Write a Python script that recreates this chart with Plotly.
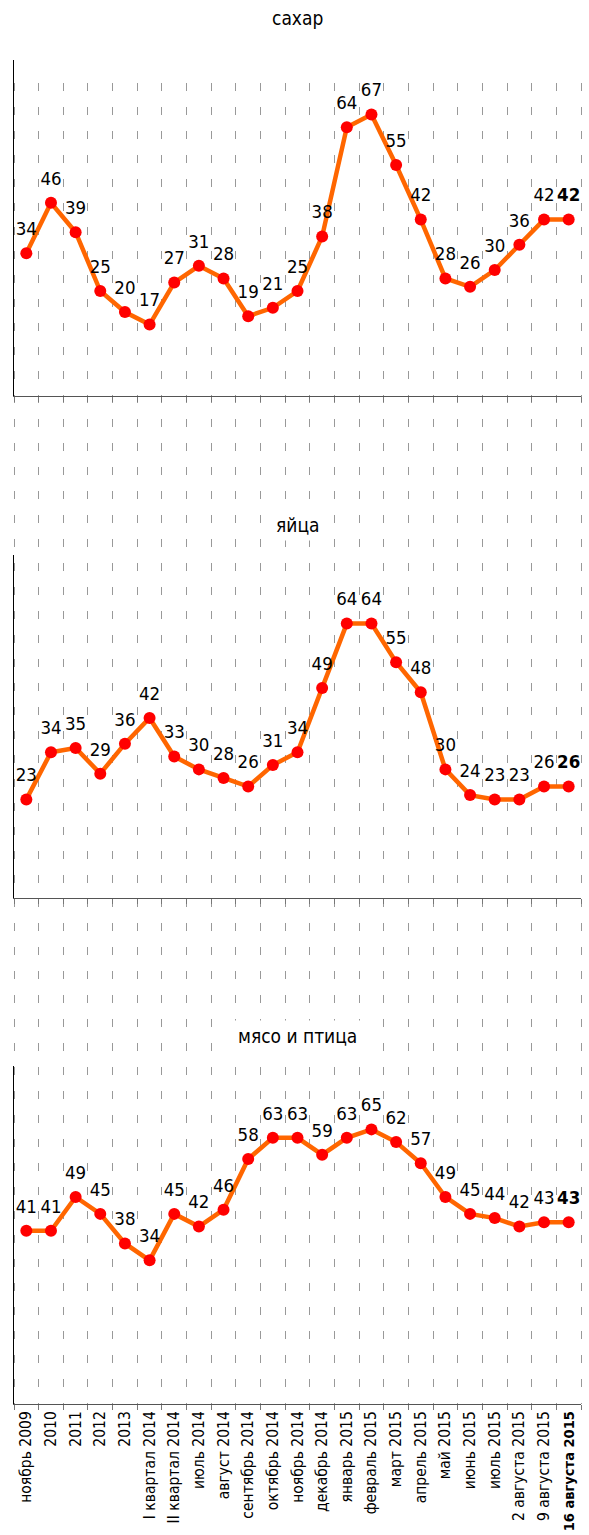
import plotly.graph_objects as go

categories = ["ноябрь 2009", "2010", "2011", "2012", "2013", "I квартал 2014",
              "II квартал 2014", "июль 2014", "август 2014", "сентябрь 2014",
              "октябрь 2014", "ноябрь 2014", "декабрь 2014", "январь 2015",
              "февраль 2015", "март 2015", "апрель 2015", "май 2015", "июнь 2015",
              "июль 2015", "2 августа 2015", "9 августа 2015", "16 августа 2015"]

sugar = [34, 46, 39, 25, 20, 17, 27, 31, 28, 19, 21, 25, 38, 64, 67, 55, 42, 28, 26, 30, 36, 42, 42]
eggs = [23, 34, 35, 29, 36, 42, 33, 30, 28, 26, 31, 34, 49, 64, 64, 55, 48, 30, 24, 23, 23, 26, 26]
meat = [41, 41, 49, 45, 38, 34, 45, 42, 46, 58, 63, 63, 59, 63, 65, 62, 57, 49, 45, 44, 42, 43, 43]

panel_titles = ["сахар", "яйца", "мясо и птица"]
series = [sugar, eggs, meat]

W, H = 589, 1535
FONT = "DejaVu Sans Condensed, Liberation Sans Narrow, sans-serif"
LINE_COLOR = "#FF6600"
MARKER_COLOR = "#FF0000"

# layout geometry (pixels)
x_left, x_right = 14, 581
panel_px = [(60, 396), (555, 898), (1066, 1404)]
title_px = [18, 525, 1036]
grid_top = 83
n = len(categories)
cat_px = (x_right - x_left) / n
ext_px = 2
ext = ext_px / cat_px


def fx(px):
    return px / W


def fy(py):
    return 1 - py / H


fig = go.Figure()

# background subplot carrying the dashed vertical gridlines through the whole figure
fig.add_trace(go.Scatter(x=categories, y=sugar, xaxis="x", yaxis="y", mode="markers",
                         marker=dict(opacity=0), hoverinfo="skip", showlegend=False))

layout = dict(
    width=W, height=H,
    margin=dict(l=0, r=0, t=0, b=0),
    paper_bgcolor="white",
    plot_bgcolor="rgba(0,0,0,0)",
    showlegend=False,
    font=dict(family=FONT, color="black"),
    xaxis=dict(domain=[fx(x_left - ext_px), fx(x_right + ext_px)], type="category",
               categoryorder="array", categoryarray=categories,
               range=[-0.5 - ext, n - 0.5 + ext], tickson="boundaries",
               tickmode="linear", tick0=0, dtick=1,
               showgrid=True, gridcolor="#999999", gridwidth=1, griddash="8px,16px",
               showticklabels=False, ticks="", showline=False, zeroline=False,
               automargin=False, fixedrange=True),
    yaxis=dict(domain=[fy(panel_px[2][1]), fy(grid_top)], range=[0, 80], visible=False,
               showgrid=False, zeroline=False, automargin=False, fixedrange=True),
)

annotations = []
for i, (vals, title) in enumerate(zip(series, panel_titles)):
    k = i + 2
    xa, ya = f"x{k}", f"y{k}"
    texts = [str(v) for v in vals[:-1]] + [f"<b>{vals[-1]}</b>"]
    fig.add_trace(go.Scatter(x=categories, y=vals, xaxis=xa, yaxis=ya, mode="lines+markers",
                             line=dict(color=LINE_COLOR, width=4.5),
                             marker=dict(color=MARKER_COLOR, size=12),
                             cliponaxis=False, hoverinfo="x+y", showlegend=False))
    fig.add_trace(go.Scatter(x=categories, y=vals, xaxis=xa, yaxis=ya, mode="markers+text",
                             marker=dict(size=20, opacity=0), text=texts,
                             textposition="top center",
                             textfont=dict(family=FONT, size=18.5, color="black"),
                             cliponaxis=False, hoverinfo="skip", showlegend=False))
    top, bot = panel_px[i]
    layout[f"xaxis{k}"] = dict(
        domain=[fx(x_left), fx(x_right)], type="category", anchor=ya,
        categoryorder="array", categoryarray=categories,
        range=[-0.5, n - 0.5], tickson="boundaries",
        tickmode="linear", tick0=0, dtick=1,
        showgrid=False, zeroline=False,
        showline=True, linecolor="#555555", linewidth=1,
        ticks="outside", ticklen=5, tickcolor="#777777", tickwidth=1,
        showticklabels=(i == 2), tickangle=-90,
        tickfont=dict(family=FONT, size=15.5, color="black"),
        labelalias={categories[-1]: f"<b><span style='font-size:14.5px'>{categories[-1]}</span></b>"},
        automargin=False, fixedrange=True)
    layout[f"yaxis{k}"] = dict(
        domain=[fy(bot), fy(top)], anchor=xa, range=[0, 80],
        showline=True, linecolor="black", linewidth=1,
        showgrid=False, zeroline=False, ticks="", showticklabels=False,
        automargin=False, fixedrange=True)
    annotations.append(dict(text=title, xref="paper", yref="paper",
                            x=fx((x_left + x_right) / 2), y=fy(title_px[i]),
                            xanchor="center", yanchor="middle", showarrow=False,
                            bgcolor="white", borderpad=4,
                            font=dict(family=FONT, size=19, color="black")))

layout["annotations"] = annotations
fig.update_layout(**layout)
fig.write_html("out.html", config={"displayModeBar": False, "staticPlot": True},
               post_script="document.body.style.margin='0';document.body.style.overflow='hidden';")
